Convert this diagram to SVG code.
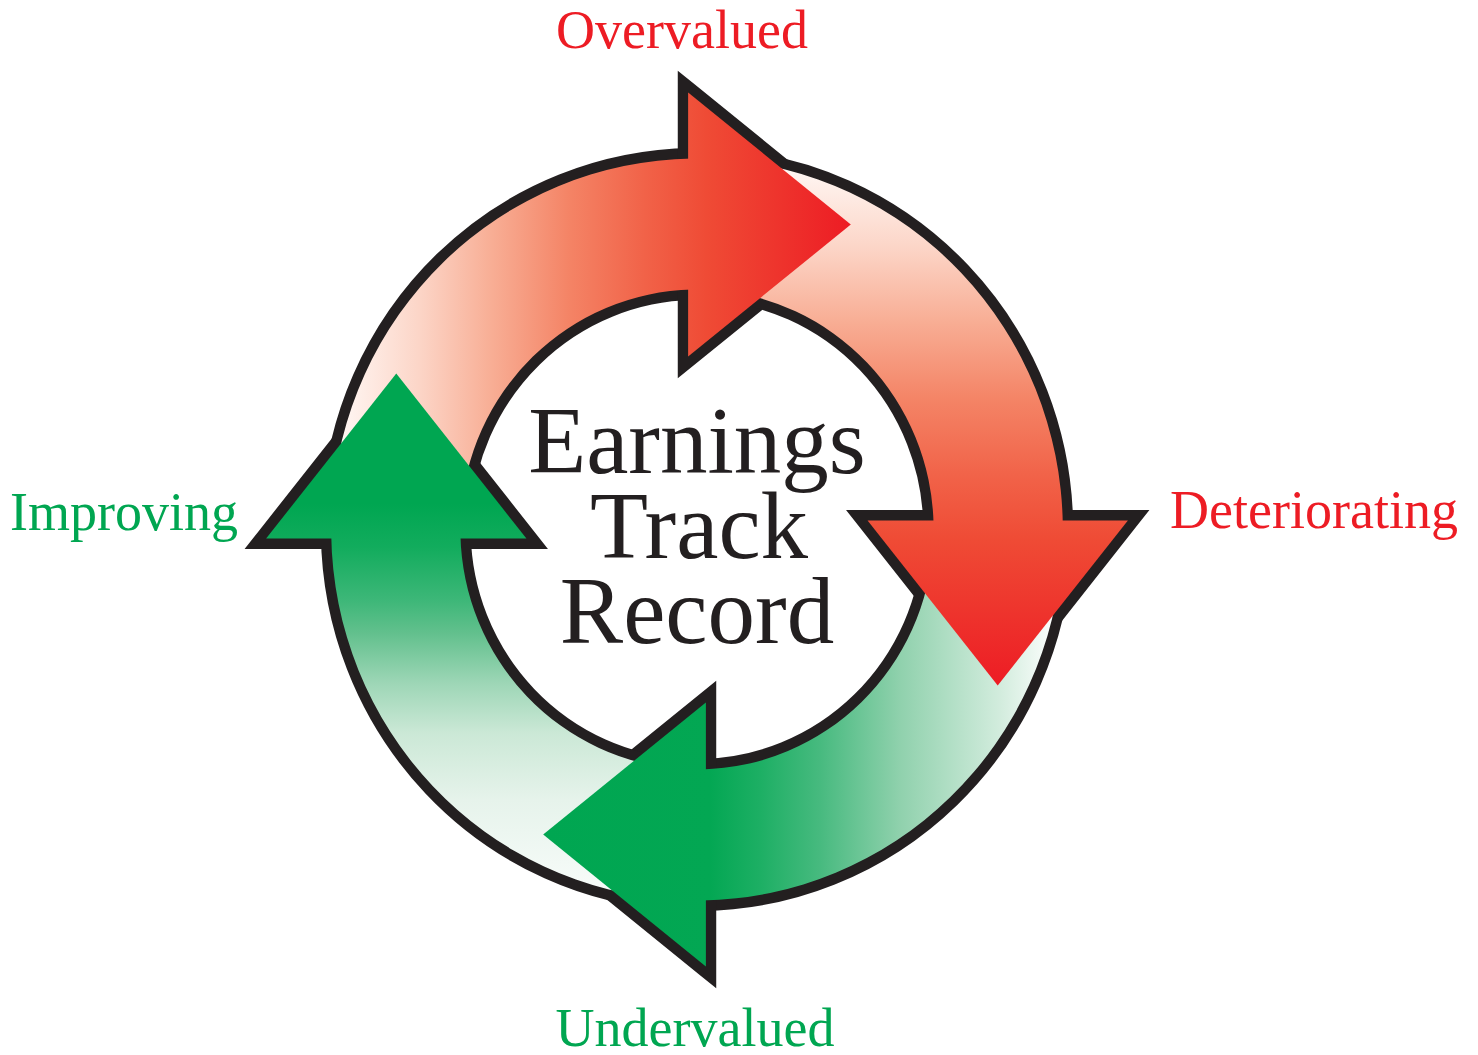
<svg xmlns="http://www.w3.org/2000/svg" width="1478" height="1055" viewBox="0 0 1478 1055">
<defs>
<style>
.outline{fill:none;stroke:#231F20;stroke-width:21;stroke-linejoin:miter;stroke-miterlimit:6}
.lbl{font-family:"Liberation Serif","Times New Roman",serif;font-size:54px;text-anchor:middle}
.red{fill:#ED1C24}
.green{fill:#00A651}
.center{font-family:"Liberation Serif","Times New Roman",serif;font-size:95px;text-anchor:middle;fill:#231F20}
</style>
<linearGradient id="gRed" gradientUnits="userSpaceOnUse" x1="-365" y1="0" x2="156" y2="0">
<stop offset="0" stop-color="#FFF8F5"/>
<stop offset="0.16" stop-color="#FCD5C7"/>
<stop offset="0.30" stop-color="#F8AE95"/>
<stop offset="0.45" stop-color="#F48466"/>
<stop offset="0.60" stop-color="#F16248"/>
<stop offset="0.72" stop-color="#EF4B35"/>
<stop offset="1" stop-color="#ED1C24"/>
</linearGradient>
<linearGradient id="gGreen" gradientUnits="userSpaceOnUse" x1="-365" y1="0" x2="156" y2="0">
<stop offset="0" stop-color="#FFFFFF"/>
<stop offset="0.111" stop-color="#D2ECDD"/>
<stop offset="0.305" stop-color="#90D1AD"/>
<stop offset="0.461" stop-color="#47BA7F"/>
<stop offset="0.578" stop-color="#1DAF64"/>
<stop offset="0.676" stop-color="#03A753"/>
<stop offset="1" stop-color="#00A651"/>
</linearGradient>
<linearGradient id="gGreenUp" gradientUnits="userSpaceOnUse" x1="-365" y1="0" x2="156" y2="0">
<stop offset="0" stop-color="#F8FCFA"/>
<stop offset="0.182" stop-color="#E6F3EB"/>
<stop offset="0.31" stop-color="#CBE8D6"/>
<stop offset="0.406" stop-color="#9DD6B6"/>
<stop offset="0.502" stop-color="#62C08D"/>
<stop offset="0.565" stop-color="#3DB778"/>
<stop offset="0.667" stop-color="#12AC5D"/>
<stop offset="0.75" stop-color="#00A651"/>
<stop offset="1" stop-color="#00A651"/>
</linearGradient>
<path id="band" d="M -370.42 -20.71 A 371 371 0 0 1 -5 -370.97 L -5 -239.95 A 240 240 0 0 0 -239.63 -13.40 Z"/>
<path id="head" d="M -9 -437 L 156 -305 L -9 -173 Z"/>
</defs>
<rect width="1478" height="1055" fill="#FFFFFF"/>
<g id="connectors" transform="translate(697 529.5) scale(0.986 1)">
<g id="outlines" class="outline">
<use href="#band"/>
<use href="#head"/>
<use href="#band" transform="rotate(90)"/>
<use href="#head" transform="rotate(90)"/>
<use href="#band" transform="rotate(180)"/>
<use href="#head" transform="rotate(180)"/>
<use href="#band" transform="rotate(270)"/>
<use href="#head" transform="rotate(270)"/>
</g>
<g id="arrow-bands">
<use href="#band" fill="url(#gRed)"/>
<use href="#band" fill="url(#gRed)" transform="rotate(90)"/>
<use href="#band" fill="url(#gGreen)" transform="rotate(180)"/>
<use href="#band" fill="url(#gGreenUp)" transform="rotate(270)"/>
</g>
<g id="arrow-heads">
<use href="#head" fill="url(#gRed)"/>
<use href="#head" fill="url(#gRed)" transform="rotate(90)"/>
<use href="#head" fill="url(#gGreen)" transform="rotate(180)"/>
<use href="#head" fill="url(#gGreenUp)" transform="rotate(270)"/>
</g>
</g>
<g id="node-center">
<text class="center" x="697" y="473">Earnings</text>
<text class="center" x="699" y="558">Track</text>
<text class="center" x="697" y="643">Record</text>
</g>
<g id="node-overvalued"><text class="lbl red" x="682" y="48">Overvalued</text></g>
<g id="node-deteriorating"><text class="lbl red" x="1314" y="528">Deteriorating</text></g>
<g id="node-undervalued"><text class="lbl green" x="695" y="1046">Undervalued</text></g>
<g id="node-improving"><text class="lbl green" x="124" y="530">Improving</text></g>
</svg>
